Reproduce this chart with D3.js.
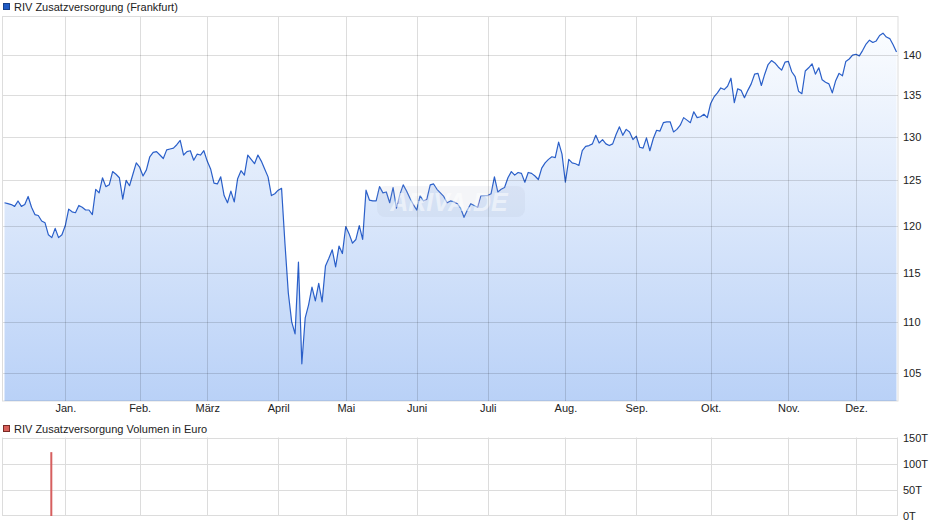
<!DOCTYPE html>
<html>
<head>
<meta charset="utf-8">
<script src="https://cdn.jsdelivr.net/npm/d3@7"></script>
<style>
  html, body { margin: 0; padding: 0; background: #fff; }
  svg { display: block; font-family: "Liberation Sans", Arial, sans-serif; }
</style>
</head>
<body>
<svg id="chart" width="940" height="526"></svg>
<script>
// ---- data ----
const seriesName = "RIV Zusatzversorgung (Frankfurt)";
const volumeName = "RIV Zusatzversorgung Volumen in Euro";
const monthLabels = ["Jan.","Feb.","März","April","Mai","Juni","Juli","Aug.","Sep.","Okt.","Nov.","Dez."];
// trading-day index of the first trading day of each month
const monthStartIndex = [18,40,60,81,101,122,143,166,187,209,232,252];
const priceTicks = [105,110,115,120,125,130,135,140];
const volumeTicks = [0,50000,100000,150000];
const volumeTickLabels = ["0T","50T","100T","150T"];
// daily closing prices (one per trading day)
const prices = [
122.5,122.4,122.3,122.1,122.7,122.1,122.3,123.2,122.0,121.2,
121.1,120.5,120.3,119.0,118.7,119.7,118.7,119.0,120.0,121.8,
121.5,121.4,122.2,122.0,121.7,121.7,121.2,124.0,123.6,125.3,
124.3,124.5,126.0,125.7,125.3,122.9,125.0,124.4,125.7,127.0,
126.5,125.5,126.2,127.7,128.2,128.3,127.9,127.5,128.5,128.6,
128.7,129.1,129.6,127.9,128.3,128.4,127.3,128.0,127.9,128.4,
127.2,126.3,124.7,124.6,125.4,123.3,122.5,123.8,122.6,125.2,
126.1,125.6,127.9,127.4,126.9,127.9,127.2,126.3,125.4,123.3,
123.5,123.9,124.1,118.1,112.9,110.0,108.8,116.1,105.9,110.4,
111.7,113.5,112.1,113.9,112.0,115.7,116.5,117.4,115.6,117.8,
117.0,119.9,119.1,118.1,118.5,120.0,118.5,123.9,122.8,122.7,
122.7,124.3,123.6,123.7,122.5,124.2,121.9,123.4,124.5,123.8,
123.0,122.3,121.7,123.3,122.7,122.9,124.5,124.6,124.0,123.6,
123.2,122.5,122.7,122.6,122.4,121.9,120.9,121.7,122.4,122.2,
122.0,123.3,123.3,123.3,123.5,125.4,123.7,124.0,124.2,125.3,
126.0,125.6,125.9,125.8,124.8,125.9,125.8,125.5,125.1,126.4,
127.0,127.4,127.7,127.6,129.4,128.0,124.8,127.4,127.0,126.9,
126.7,128.4,128.9,129.0,129.2,130.2,129.3,129.7,129.2,129.0,
129.2,130.3,131.2,130.2,130.9,130.6,129.7,130.1,128.8,128.7,
129.9,128.4,129.8,130.8,130.7,131.7,131.8,131.8,130.6,130.9,
131.4,132.3,132.0,131.7,133.0,132.3,132.4,132.7,132.3,134.0,
134.8,135.3,135.9,135.7,136.1,137.1,134.1,135.8,135.6,134.7,
135.6,136.4,137.6,137.7,136.2,137.6,138.8,139.3,139.0,138.5,
138.1,139.1,139.2,137.9,137.3,135.5,135.2,138.0,138.4,138.9,
137.6,138.4,136.9,136.6,136.4,135.3,136.8,137.7,137.4,139.2,
139.5,140.0,140.1,139.9,140.6,141.4,141.9,141.6,141.8,142.5,
142.8,142.3,142.1,141.3,140.4
];
// traded volume (Euro): only one day with turnover
const volumeDayIndex = [14];
const volumeEuro = [122000];

// ---- layout ----
const svg = d3.select("#chart");
const P = { left: 3, right: 898, top: 17, bottom: 401 };
const V = { top: 437.5, bottom: 516 };
const gridColor = "rgba(0,0,0,0.135)";
const textColor = "#222";

const x = d3.scaleLinear().domain([0, prices.length - 1]).range([4.5, 896.5]);
const y = d3.scaleLog().domain([102.4, 144.9]).range([P.bottom, P.top]);
const yv = d3.scaleLinear().domain([0, 150000]).range([V.bottom, V.top]);
const crisp = v => Math.round(v) + 0.5;

// gradient
const defs = svg.append("defs");
const grad = defs.append("linearGradient").attr("id", "fillGrad")
  .attr("gradientUnits", "userSpaceOnUse")
  .attr("x1", 0).attr("y1", P.top).attr("x2", 0).attr("y2", P.bottom);
grad.append("stop").attr("offset", 0).attr("stop-color", "#fdfeff");
grad.append("stop").attr("offset", 1).attr("stop-color", "#b9d1f7");
defs.append("clipPath").attr("id", "plotClip").append("rect")
  .attr("x", P.left).attr("y", P.top).attr("width", P.right - P.left).attr("height", P.bottom - P.top);

// legend (main)
svg.append("rect").attr("x", 3.5).attr("y", 3.5).attr("width", 6).attr("height", 6)
  .attr("fill", "#1f5bc6").attr("stroke", "#17408a").attr("stroke-width", 1);
svg.append("text").attr("x", 14).attr("y", 10.5).attr("font-size", 11).attr("fill", textColor).text(seriesName);

// area + line
const gPlot = svg.append("g").attr("clip-path", "url(#plotClip)");
const area = d3.area().x((d, i) => x(i)).y0(P.bottom).y1(d => y(d));
gPlot.append("path").datum(prices).attr("d", area).attr("fill", "url(#fillGrad)");

// watermark
const wm = svg.append("g");
wm.append("rect").attr("x", 377).attr("y", 186).attr("width", 148).attr("height", 31).attr("rx", 8)
  .attr("fill", "rgba(170,180,200,0.13)");
wm.append("text").attr("x", 449).attr("y", 211).attr("text-anchor", "middle")
  .attr("font-size", 25).attr("font-weight", "bold").attr("font-style", "italic")
  .attr("fill", "rgba(255,255,255,0.5)").text("ARIVA.DE");

// grid (main)
const gGrid = svg.append("g").attr("stroke", gridColor).attr("stroke-width", 1).attr("fill", "none");
priceTicks.forEach(t => {
  gGrid.append("line").attr("x1", P.left).attr("x2", P.right).attr("y1", crisp(y(t))).attr("y2", crisp(y(t)));
});
monthStartIndex.forEach(m => {
  gGrid.append("line").attr("x1", crisp(x(m))).attr("x2", crisp(x(m))).attr("y1", P.top).attr("y2", P.bottom);
});
gGrid.append("rect").attr("x", 2.5).attr("y", 16.5).attr("width", P.right - 2.5).attr("height", P.bottom - 16.5);

const line = d3.line().x((d, i) => x(i)).y(d => y(d));
gPlot.append("path").datum(prices).attr("d", line).attr("fill", "none")
  .attr("stroke", "#2a5fc9").attr("stroke-width", 1.2).attr("stroke-linejoin", "round");

// y axis (right)
const yAxis = d3.axisRight(y).tickValues(priceTicks).tickFormat(d3.format("d")).tickSize(0).tickPadding(5);
const gy = svg.append("g").attr("transform", `translate(${P.right},0)`).call(yAxis);
gy.select(".domain").remove();
gy.selectAll("text").attr("font-size", 11).attr("fill", textColor).attr("font-family", "Liberation Sans, Arial, sans-serif");

// x axis
const xAxis = d3.axisBottom(x).tickValues(monthStartIndex).tickFormat((d, i) => monthLabels[i]).tickSize(0).tickPadding(3);
const gx = svg.append("g").attr("transform", `translate(0,${P.bottom})`).call(xAxis);
gx.select(".domain").remove();
gx.selectAll("text").attr("font-size", 11).attr("fill", textColor).attr("font-family", "Liberation Sans, Arial, sans-serif");

// volume legend
svg.append("rect").attr("x", 3.5).attr("y", 425.5).attr("width", 6).attr("height", 6)
  .attr("fill", "#d9605a").attr("stroke", "#7a2a26").attr("stroke-width", 1);
svg.append("text").attr("x", 14).attr("y", 432.5).attr("font-size", 11).attr("fill", textColor).text(volumeName);

// volume grid
const gVG = svg.append("g").attr("stroke", "#dcdcdc").attr("stroke-width", 1).attr("fill", "none");
volumeTicks.forEach(t => {
  gVG.append("line").attr("x1", P.left).attr("x2", P.right).attr("y1", crisp(yv(t)) - (t === 0 ? 1 : 0)).attr("y2", crisp(yv(t)) - (t === 0 ? 1 : 0));
});
monthStartIndex.forEach(m => {
  gVG.append("line").attr("x1", crisp(x(m))).attr("x2", crisp(x(m))).attr("y1", V.top).attr("y2", V.bottom);
});
gVG.append("line").attr("x1", 2.5).attr("x2", 2.5).attr("y1", V.top).attr("y2", V.bottom);
gVG.append("line").attr("x1", 897.5).attr("x2", 897.5).attr("y1", V.top).attr("y2", V.bottom);

// volume bars
svg.append("g").selectAll("rect").data(volumeDayIndex).join("rect")
  .attr("x", d => x(d) - 1.5).attr("width", 2)
  .attr("y", (d, i) => yv(volumeEuro[i])).attr("height", (d, i) => yv(0) - yv(volumeEuro[i]))
  .attr("fill", "#d65f5f");

// volume axis
const vAxis = d3.axisRight(yv).tickValues(volumeTicks).tickFormat((d, i) => volumeTickLabels[i]).tickSize(0).tickPadding(5);
const gv = svg.append("g").attr("transform", `translate(${P.right},0)`).call(vAxis);
gv.select(".domain").remove();
gv.selectAll("text").attr("font-size", 11).attr("fill", textColor).attr("font-family", "Liberation Sans, Arial, sans-serif");
</script>
</body>
</html>
